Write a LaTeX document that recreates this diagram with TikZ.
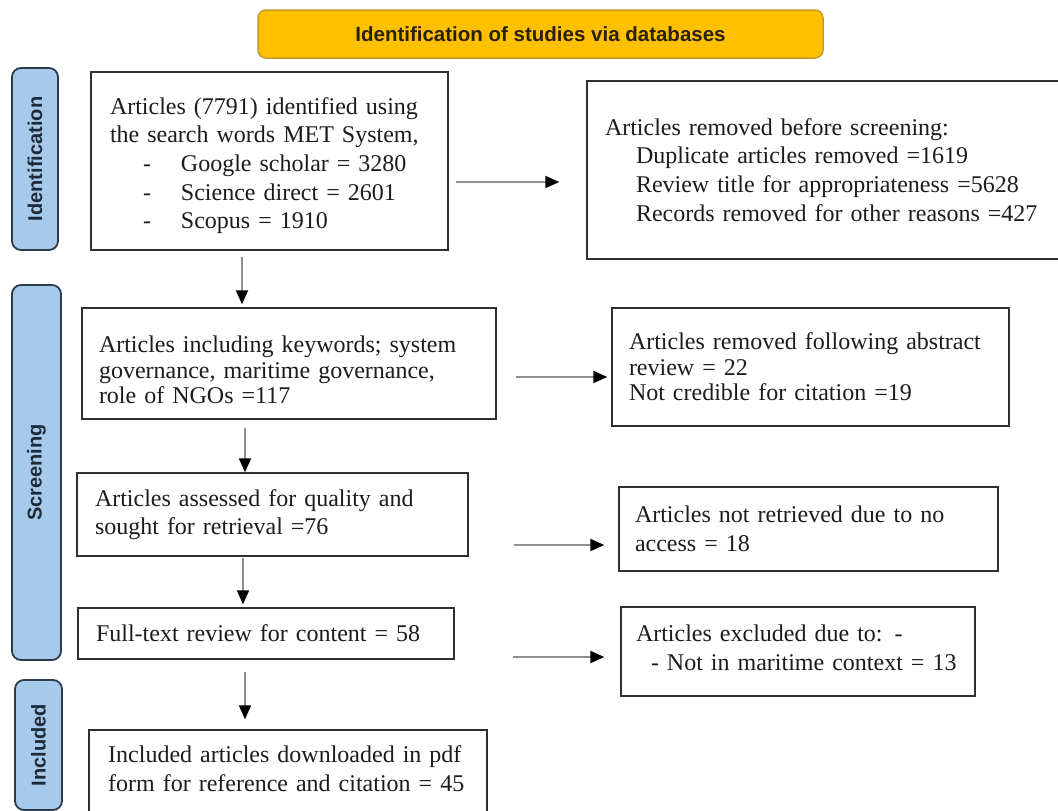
\documentclass[tikz,border=0pt]{standalone}
\usepackage{fontspec}
\setmainfont{Liberation Serif}
\newfontfamily\labelfont{Liberation Sans}
\usepackage{graphicx}
\usetikzlibrary{arrows.meta,fit}

\definecolor{headfill}{HTML}{FFC000}
\definecolor{headline}{HTML}{C79A2A}
\definecolor{headink}{HTML}{2A2108}
\definecolor{barfill}{HTML}{A6C9EC}
\definecolor{barline}{HTML}{2E3B4B}
\definecolor{barink}{HTML}{1F2A38}
\definecolor{ink}{HTML}{1C1C1C}
\definecolor{shaft}{HTML}{8E8E8E}
\definecolor{frame}{HTML}{303030}

% invisible struts that nudge a text block inside its frame
\newcommand{\topstrut}[1]{\rule{0pt}{#1}}
\newcommand{\botstrut}[1]{\rule[-#1]{0pt}{#1}}

\begin{document}
\begin{tikzpicture}[x=1pt,y=-1pt,
  box/.style={draw=frame, line width=1.4pt, rectangle, align=left, text=ink,
    font=\fontsize{24}{28.7}\selectfont, inner ysep=0pt},
  tightbox/.style={box, font=\fontsize{24}{25.5}\selectfont},
  txt/.style={align=left, text=ink, inner sep=0pt, font=\fontsize{24}{28.7}\selectfont},
  bar/.style={draw=barline, fill=barfill, line width=1.8pt, rounded corners=9pt,
    text=barink, inner sep=0pt, font=\labelfont\bfseries\fontsize{20}{24}\selectfont},
  arr/.style={draw=shaft, line width=2pt, -{Triangle[length=14pt,width=12pt,color=black]}}]

\useasboundingbox (0,0) rectangle (1058,811);
\clip (0,0) rectangle (1058,811);
\fill[white] (0,0) rectangle (1058,811);

% banner
\node[draw=headline, fill=headfill, line width=1.5pt, rounded corners=8pt,
  minimum width=565pt, minimum height=48pt, text=headink,
  font=\labelfont\bfseries\fontsize{20.5}{24}\selectfont] (head) at (540.5,34)
  {Identification of studies via databases};

% phase bars
\node[bar, minimum width=46pt, minimum height=182pt] (idbar) at (35,159) {\rotatebox{90}{Identification}};
\node[bar, minimum width=49pt, minimum height=375pt] (scbar) at (36.5,472.5) {\rotatebox{90}{Screening}};
\node[bar, minimum width=47pt, minimum height=130pt] (inbar) at (38.5,745) {\rotatebox{90}{Included}};

% flow boxes
\node[box, minimum width=357pt, minimum height=178pt, inner xsep=19pt, text width=319pt] (A) at (269.5,161)
  {\topstrut{26pt}Articles (7791) identified using\\
   the search words MET System,\\
   \makebox[71pt][l]{\hspace*{33pt}-}Google scholar = 3280\\
   \makebox[71pt][l]{\hspace*{33pt}-}Science direct = 2601\\
   \makebox[71pt][l]{\hspace*{33pt}-}Scopus = 1910};

\node[box, minimum width=483pt, minimum height=178pt, inner xsep=18pt, text width=447pt] (B) at (828.5,170)
  {Articles removed before screening:\\
   \hspace*{31pt}Duplicate articles removed =1619\\
   \hspace*{31pt}Review title for appropriateness =5628\\
   \hspace*{31pt}Records removed for other reasons =427};

\node[tightbox, minimum width=414pt, minimum height=111pt, inner xsep=17pt, text width=380pt] (C) at (289,363.5)
  {\topstrut{30pt}Articles including keywords; system\\
   governance, maritime governance,\\
   role of NGOs =117};

\node[tightbox, minimum width=397pt, minimum height=118pt, inner xsep=17pt, text width=363pt] (D) at (810.5,367)
  {Articles removed following abstract\\
   review = 22\\
   Not credible for citation =19};

\node[box, minimum width=391pt, minimum height=83pt, inner xsep=18pt, text width=355pt] (E) at (272.5,514.5)
  {Articles assessed for quality and\\
   sought for retrieval =76};

\node[box, minimum width=379pt, minimum height=84pt, inner xsep=16pt, text width=347pt] (F) at (808.5,529)
  {Articles not retrieved due to no\\
   access = 18};

\node[box, minimum width=376pt, minimum height=51pt, inner xsep=18pt, text width=340pt] (G) at (266,633.5)
  {Full-text review for content = 58};

\node[box, minimum width=354pt, minimum height=89pt, inner xsep=15pt, text width=324pt] (H) at (798,651.5)
  {Articles excluded due to: -\\
   \hspace*{15pt}- Not in maritime context = 13\botstrut{8pt}};

\node[box, fit={(89,730) (487,840)}, inner sep=0pt] (I) {};
\node[txt, anchor=west, text width=370pt] (Itxt) at (108,769)
  {Included articles downloaded in pdf\\
   form for reference and citation = 45};

% connectors
\draw[arr, shorten <=7pt, shorten >=27pt] ([yshift=-21pt]A.east) -- ([yshift=-21pt]A.east -| B.west);
\draw[arr, shorten <=6pt, shorten >=3pt] ([xshift=-27.5pt]A.south) -- ([xshift=-27.5pt]A.south |- C.north);
\draw[arr, shorten <=19pt, shorten >=4pt] ([yshift=-13.5pt]C.east) -- ([yshift=-13.5pt]C.east -| D.west);
\draw[arr, shorten <=8pt, shorten >=0pt] ([xshift=-44pt]C.south) -- ([xshift=-44pt]C.south |- E.north);
\draw[arr, shorten <=45pt, shorten >=14pt] ([yshift=-30.5pt]E.east) -- ([yshift=-30.5pt]E.east -| F.west);
\draw[arr, shorten <=1pt, shorten >=3pt] ([xshift=-29.5pt]E.south) -- ([xshift=-29.5pt]E.south |- G.north);
\draw[arr, shorten <=58pt, shorten >=16pt] ([yshift=-23.5pt]G.east) -- ([yshift=-23.5pt]G.east -| H.west);
\draw[arr, shorten <=12pt, shorten >=10pt] ([xshift=-21pt]G.south) -- ([xshift=-21pt]G.south |- I.north);

\end{tikzpicture}
\end{document}
